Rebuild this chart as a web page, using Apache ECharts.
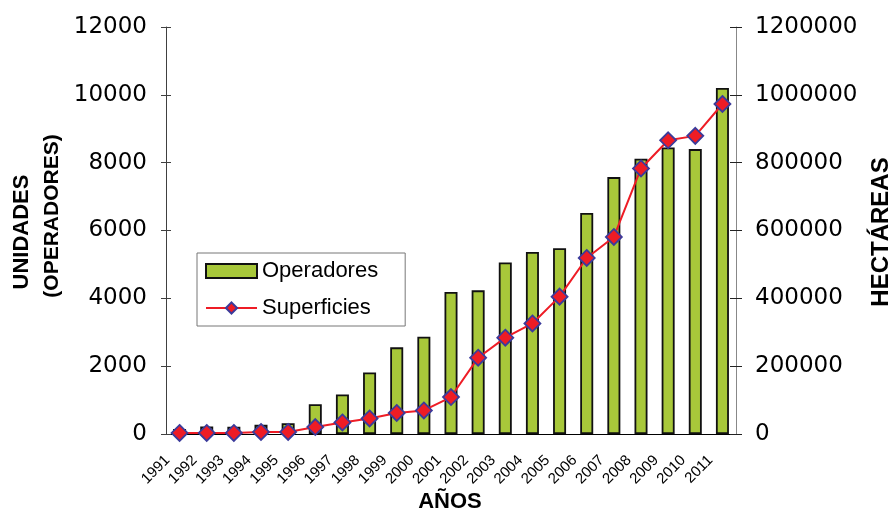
<!DOCTYPE html>
<html>
<head>
<meta charset="utf-8">
<script src="https://cdn.jsdelivr.net/npm/echarts@6/dist/echarts.min.js"></script>
<style>
  html, body { margin: 0; padding: 0; background: #fff; }
  #chart { width: 891px; height: 511px; }
</style>
</head>
<body>
<div id="chart"></div>
<script>
const years = ['1991', '1992', '1993', '1994', '1995', '1996', '1997', '1998', '1999', '2000',
  '2001', '2002', '2003', '2004', '2005', '2006', '2007', '2008', '2009', '2010', '2011']
// unidades (operadores), eje izquierdo
const operadores = [150, 220, 215, 270, 320, 880, 1165, 1815, 2555, 2870,
  4190, 4235, 5060, 5365, 5475, 6515, 7575, 8115, 8450, 8400, 10200]
// hectáreas, eje derecho
const superficies = [3000, 3000, 3000, 6000, 6000, 20600, 34000, 46000, 62000, 69500,
  109000, 225000, 284000, 326000, 405000, 519000, 581000, 783000, 866000, 879000, 973000]

const leftTicks = { min: 0, max: 12000, interval: 2000 }
const rightTicks = { min: 0, max: 1200000, interval: 200000 }

const tickFont = { fontFamily: 'DejaVu Sans', fontSize: 23, color: '#000' }
const titleFont = 'Liberation Sans'

const chart = echarts.init(document.getElementById('chart'))

chart.setOption({
  animation: false,
  backgroundColor: '#fff',
  grid: { left: 166, right: 155, top: 27, bottom: 77, outerBoundsMode: 'none' },
  legend: {
    orient: 'vertical',
    left: 197,
    top: 253,
    padding: [7, 27, 7, 8],
    itemGap: 15,
    itemWidth: 51,
    itemHeight: 14,
    borderColor: '#777',
    borderWidth: 1,
    backgroundColor: '#fff',
    textStyle: { fontFamily: titleFont, fontSize: 22, color: '#000' },
    data: [{ name: 'Operadores', icon: 'rect' }, { name: 'Superficies' }]
  },
  xAxis: [
    {
      type: 'category',
      data: years,
      position: 'bottom',
      axisLine: { lineStyle: { color: '#000', width: 1 } },
      axisTick: { length: 5, lineStyle: { color: '#000' } },
      axisLabel: {
        interval: 0,
        rotate: 45,
        margin: 36,
        verticalAlign: 'bottom',
        lineHeight: 34,
        fontFamily: titleFont,
        fontSize: 15,
        color: '#000'
      }
    },
    {
      // copia para que las marcas crucen el eje
      type: 'category',
      data: years,
      position: 'bottom',
      axisLine: { show: false },
      axisTick: { inside: true, length: 5, lineStyle: { color: '#000' } },
      axisLabel: { show: false }
    }
  ],
  yAxis: [
    {
      type: 'value',
      position: 'left',
      ...leftTicks,
      splitLine: { show: false },
      axisLine: { show: true, lineStyle: { color: '#404040' } },
      axisTick: { show: true, length: 5, lineStyle: { color: '#404040' } },
      axisLabel: { margin: 19, ...tickFont, formatter: v => String(v) }
    },
    {
      type: 'value',
      position: 'right',
      ...rightTicks,
      splitLine: { show: false },
      axisLine: { show: true, lineStyle: { color: '#888' } },
      axisTick: { show: true, length: 6, lineStyle: { color: '#222' } },
      axisLabel: { margin: 19, ...tickFont, formatter: v => String(v) }
    },
    {
      type: 'value',
      position: 'left',
      ...leftTicks,
      splitLine: { show: false },
      axisLine: { show: false },
      axisTick: { show: true, inside: true, length: 5, lineStyle: { color: '#404040' } },
      axisLabel: { show: false }
    },
    {
      type: 'value',
      position: 'right',
      ...rightTicks,
      splitLine: { show: false },
      axisLine: { show: false },
      axisTick: { show: true, inside: true, length: 6, lineStyle: { color: '#222' } },
      axisLabel: { show: false }
    }
  ],
  series: [
    {
      name: 'Operadores',
      type: 'bar',
      xAxisIndex: 0,
      yAxisIndex: 0,
      barWidth: 13,
      data: operadores,
      itemStyle: { color: '#A8C83A', borderColor: '#111', borderWidth: 1.8 }
    },
    {
      name: 'Superficies',
      type: 'line',
      xAxisIndex: 0,
      yAxisIndex: 1,
      data: superficies,
      symbol: 'diamond',
      symbolSize: 16,
      lineStyle: { color: '#EE1C25', width: 2 },
      itemStyle: { color: '#EE1C25', borderColor: '#3B3B9B', borderWidth: 1.8 }
    }
  ],
  graphic: [
    {
      type: 'text', x: 22, y: 232, rotation: Math.PI / 2,
      style: { text: 'UNIDADES', fontFamily: titleFont, fontWeight: 'bold', fontSize: 22, fill: '#000', align: 'center', verticalAlign: 'middle' }
    },
    {
      type: 'text', x: 52, y: 216, rotation: Math.PI / 2,
      style: { text: '(OPERADORES)', fontFamily: titleFont, fontWeight: 'bold', fontSize: 21, fill: '#000', align: 'center', verticalAlign: 'middle' }
    },
    {
      type: 'text', x: 881, y: 232, rotation: Math.PI / 2,
      style: { text: 'HECTÁREAS', fontFamily: titleFont, fontWeight: 'bold', fontSize: 24, fill: '#000', align: 'center', verticalAlign: 'middle' }
    },
    {
      type: 'text', x: 450, y: 502,
      style: { text: 'AÑOS', fontFamily: titleFont, fontWeight: 'bold', fontSize: 22, fill: '#000', align: 'center', verticalAlign: 'middle' }
    }
  ]
})
</script>
</body>
</html>
